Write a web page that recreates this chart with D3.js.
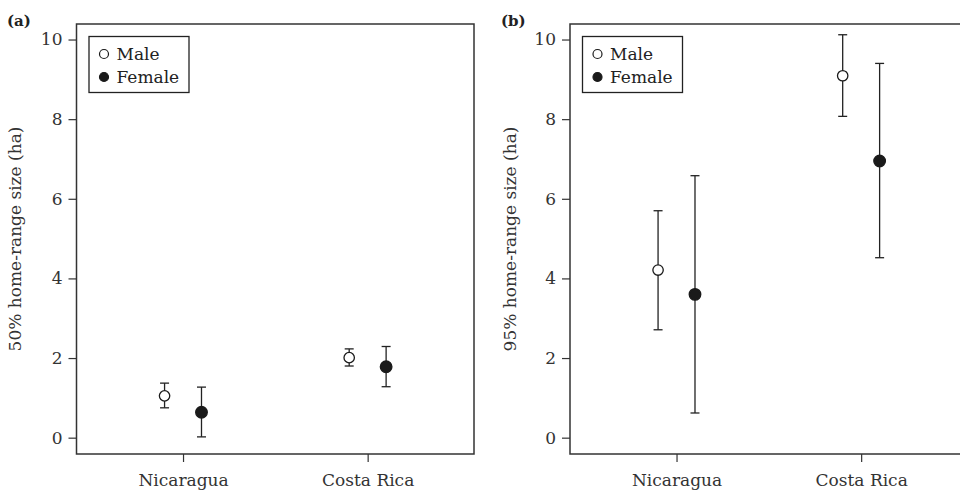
<!DOCTYPE html>
<html>
<head>
<meta charset="utf-8">
<style>
    body { margin: 0; background: #fff; }
    svg { display: block; font-family: 'DejaVu Serif', serif; }
    .axis .domain { display: none; }
    .axis .tick line { stroke: #333; stroke-width: 1.2; }
    .axis .tick text { font-size: 17px; fill: #333; font-family: 'DejaVu Serif', serif; }
    .frame { fill: none; stroke: #333; stroke-width: 1.5; }
    .bar { stroke: #222; stroke-width: 1.3; }
    .ylab { font-size: 17px; fill: #333; }
    .panel-tag { font-size: 15px; font-weight: bold; fill: #222; }
    .legend text { font-size: 17px; fill: #222; }
</style>
</head>
<body>
<svg width="960" height="490"></svg>

<script src="https://cdn.jsdelivr.net/npm/d3@7"></script>
<script>
    let countries = ["Nicaragua", "Costa Rica"]
    let sexes = ["Male", "Female"]

    // (a) 50% home range, ha
    let a_male = [1.05, 2.01]
    let a_male_lo = [0.75, 1.80]
    let a_male_hi = [1.37, 2.23]
    let a_female = [0.64, 1.78]
    let a_female_lo = [0.02, 1.28]
    let a_female_hi = [1.27, 2.29]

    // (b) 95% home range, ha
    let b_male = [4.21, 9.09]
    let b_male_lo = [2.71, 8.07]
    let b_male_hi = [5.70, 10.12]
    let b_female = [3.60, 6.95]
    let b_female_lo = [0.62, 4.52]
    let b_female_hi = [6.58, 9.40]

    let yTicks = [0, 2, 4, 6, 8, 10]

    let svg = d3.select("svg")

    function rows(m, mlo, mhi, f, flo, fhi) {
        let out = []
        countries.forEach((c, i) => {
            out.push({ country: i + 1, sex: "Male", v: m[i], lo: mlo[i], hi: mhi[i] })
            out.push({ country: i + 1, sex: "Female", v: f[i], lo: flo[i], hi: fhi[i] })
        })
        return out
    }

    let panels = [
        { tag: "(a)", tagX: 7, left: 76.5, label: "50% home-range size (ha)", labelX: 21,
          data: rows(a_male, a_male_lo, a_male_hi, a_female, a_female_lo, a_female_hi) },
        { tag: "(b)", tagX: 501, left: 570, label: "95% home-range size (ha)", labelX: 516,
          data: rows(b_male, b_male_lo, b_male_hi, b_female, b_female_lo, b_female_hi) }
    ]

    let plotTop = 24, plotBottom = 454, plotW = 397.5

    let y = d3.scaleLinear()
        .domain([-0.41, 10.39])
        .range([plotBottom, plotTop])

    let offset = { Male: -0.1, Female: 0.1 }

    panels.forEach(p => {
        let x = d3.scaleLinear()
            .domain([0.423, 2.576])
            .range([p.left, p.left + plotW])

        let g = svg.append("g")

        g.append("g")
            .attr("class", "y axis")
            .attr("transform", `translate(${p.left},0)`)
            .call(d3.axisLeft(y).tickValues(yTicks).tickSize(8).tickPadding(6).tickFormat(d3.format("d")))

        g.append("g")
            .attr("class", "x axis")
            .attr("transform", `translate(0,${plotBottom})`)
            .call(d3.axisBottom(x).tickValues([1, 2]).tickSize(8).tickPadding(12)
                .tickFormat(d => countries[d - 1]))

        g.append("rect")
            .attr("class", "frame")
            .attr("x", p.left)
            .attr("y", plotTop)
            .attr("width", plotW)
            .attr("height", plotBottom - plotTop)

        // error bars
        let eb = g.append("g").selectAll("g")
            .data(p.data)
            .join("g")
        eb.append("line").attr("class", "bar")
            .attr("x1", d => x(d.country + offset[d.sex]))
            .attr("x2", d => x(d.country + offset[d.sex]))
            .attr("y1", d => y(d.lo))
            .attr("y2", d => y(d.hi))
        eb.append("line").attr("class", "bar")
            .attr("x1", d => x(d.country + offset[d.sex]) - 4.5)
            .attr("x2", d => x(d.country + offset[d.sex]) + 4.5)
            .attr("y1", d => y(d.lo))
            .attr("y2", d => y(d.lo))
        eb.append("line").attr("class", "bar")
            .attr("x1", d => x(d.country + offset[d.sex]) - 4.5)
            .attr("x2", d => x(d.country + offset[d.sex]) + 4.5)
            .attr("y1", d => y(d.hi))
            .attr("y2", d => y(d.hi))
        eb.append("circle")
            .attr("cx", d => x(d.country + offset[d.sex]))
            .attr("cy", d => y(d.v))
            .attr("r", d => d.sex == "Male" ? 5.2 : 5.8)
            .attr("fill", d => d.sex == "Male" ? "#fff" : "#1a1a1a")
            .attr("stroke", "#1a1a1a")
            .attr("stroke-width", 1.3)

        // legend
        let lg = g.append("g").attr("class", "legend")
        lg.append("rect")
            .attr("x", p.left + 12.5)
            .attr("y", 36.5)
            .attr("width", 100)
            .attr("height", 56)
            .attr("fill", "#fff")
            .attr("stroke", "#222")
            .attr("stroke-width", 1.3)
        sexes.forEach((s, i) => {
            lg.append("circle")
                .attr("cx", p.left + 27.5)
                .attr("cy", 54 + i * 23)
                .attr("r", 4.5)
                .attr("fill", s == "Male" ? "#fff" : "#1a1a1a")
                .attr("stroke", "#1a1a1a")
                .attr("stroke-width", 1.2)
            lg.append("text")
                .attr("x", p.left + 40)
                .attr("y", 60 + i * 23)
                .text(s)
        })

        svg.append("text")
            .attr("class", "ylab")
            .attr("transform", `translate(${p.labelX},${(plotTop + plotBottom) / 2}) rotate(-90)`)
            .attr("text-anchor", "middle")
            .text(p.label)

        svg.append("text")
            .attr("class", "panel-tag")
            .attr("x", p.tagX)
            .attr("y", 26)
            .text(p.tag)
    })
</script>
</body>
</html>
